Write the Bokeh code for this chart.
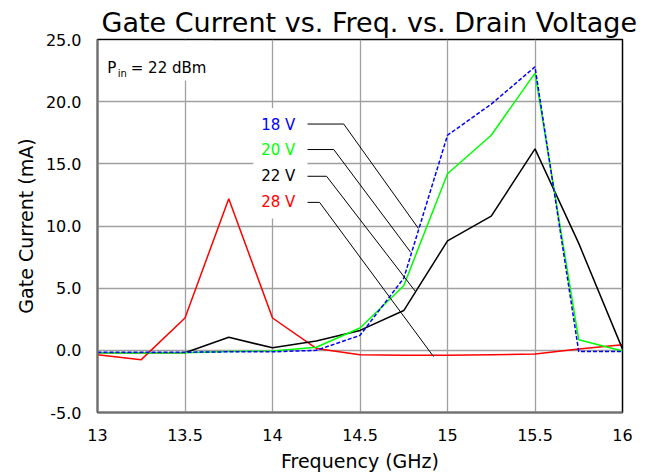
from bokeh.plotting import figure
from bokeh.models import FixedTicker, PrintfTickFormatter, Range1d, Title
from bokeh.core.properties import value
from bokeh.embed import file_html
from bokeh.resources import INLINE

# ---- data ----
freq = [13, 13.25, 13.5, 13.75, 14, 14.25, 14.5, 14.75, 15, 15.25, 15.5, 15.75, 16]
v18 = [-0.15, -0.15, -0.15, -0.12, -0.12, 0.0, 1.2, 5.8, 17.3, 19.8, 22.8, -0.1, -0.1]
v20 = [-0.2, -0.2, -0.2, -0.1, -0.05, 0.25, 1.8, 5.2, 14.2, 17.3, 22.3, 0.85, -0.05]
v22 = [-0.2, -0.2, -0.2, 1.05, 0.2, 0.75, 1.6, 3.2, 8.8, 10.8, 16.2, 8.6, 0.1]
v28 = [-0.35, -0.75, 2.6, 12.2, 2.6, 0.15, -0.35, -0.4, -0.4, -0.35, -0.3, 0.1, 0.45]

x_ticks = [13, 13.5, 14, 14.5, 15, 15.5, 16]
x_tick_labels = ["13", "13.5", "14", "14.5", "15", "15.5", "16"]
y_ticks = [-5, 0, 5, 10, 15, 20, 25]

series_names = ["18 V", "20 V", "22 V", "28 V"]
series_colors = ["#0000ff", "#00ff00", "#000000", "#ff0000"]

# callout label anchors and leader lines (data coordinates)
label_x = 14.13
label_y = [18.15, 16.1, 14.0, 11.9]
leader_x = [[14.2, 14.407, 14.834], [14.2, 14.35, 14.789],
            [14.2, 14.309, 14.817], [14.2, 14.269, 14.92]]
leader_y = [[18.2, 18.2, 9.8], [16.15, 16.15, 7.9],
            [14.0, 14.0, 4.73], [11.9, 11.9, -0.5]]

FONT = "DejaVu Sans"

p = figure(width=649, height=476, output_backend="svg", toolbar_location=None,
           x_range=Range1d(13, 16), y_range=Range1d(-5, 25),
           min_border_left=97, min_border_right=27, min_border_top=39, min_border_bottom=64)

p.title = Title(text="Gate Current vs. Freq. vs. Drain Voltage", align="left", offset=4,
                standoff=3, text_font=FONT, text_font_size="27px", text_font_style="normal",
                text_color="#000000")

p.outline_line_color = "#000000"
p.outline_line_width = 1.5
p.background_fill_color = "white"

for g in (p.xgrid, p.ygrid):
    g.grid_line_color = "#a0a0a0"
    g.grid_line_width = 1.3
p.xgrid.ticker = FixedTicker(ticks=x_ticks)
p.ygrid.ticker = FixedTicker(ticks=y_ticks)

xa = p.xaxis[0]
xa.ticker = FixedTicker(ticks=x_ticks)
xa.major_label_overrides = {t: l for t, l in zip(x_ticks, x_tick_labels)}
xa.axis_label = "Frequency (GHz)"
xa.major_label_standoff = 16
xa.axis_label_standoff = 6

ya = p.yaxis[0]
ya.ticker = FixedTicker(ticks=y_ticks)
ya.formatter = PrintfTickFormatter(format="%.1f")
ya.axis_label = "Gate Current (mA)"
ya.major_label_standoff = 16
ya.axis_label_standoff = 6

for ax in (xa, ya):
    ax.major_tick_line_color = None
    ax.minor_tick_line_color = None
    ax.major_tick_out = 0
    ax.major_tick_in = 0
    ax.axis_line_color = "#707070"
    ax.axis_line_width = 2
    ax.major_label_text_font = FONT
    ax.major_label_text_font_size = "16px"
    ax.major_label_text_color = "#000000"
    ax.axis_label_text_font = FONT
    ax.axis_label_text_font_size = "19px"
    ax.axis_label_text_font_style = "normal"
    ax.axis_label_text_color = "#000000"

# white boxes behind the annotations
p.quad(left=[13.017], right=[13.66], top=[24.9], bottom=[21.7],
       fill_color="white", line_color=None)
p.quad(left=[13.89], right=[14.2], top=[19.5], bottom=[10.6],
       fill_color="white", line_color=None)

# series
p.line(freq, v28, line_color=series_colors[3], line_width=1.5)
p.line(freq, v22, line_color=series_colors[2], line_width=1.5)
p.line(freq, v20, line_color=series_colors[1], line_width=1.5)
p.line(freq, v18, line_color=series_colors[0], line_width=1.5, line_dash="4 2")

# leader lines
p.multi_line(xs=leader_x, ys=leader_y, line_color="#000000", line_width=1)

# callout labels
p.text(x=[label_x] * 4, y=label_y, text=series_names, text_color=series_colors,
       text_align="right", text_baseline="middle",
       text_font=value(FONT), text_font_size="15px")

# P_in annotation
p.text(x=[13.055], y=[22.73], text=["P"], text_align="left", text_baseline="alphabetic",
       text_font=value(FONT), text_font_size="15px", text_color="#000000")
p.text(x=[13.115], y=[22.25], text=["in"], text_align="left", text_baseline="alphabetic",
       text_font=value(FONT), text_font_size="10px", text_color="#000000")
p.text(x=[13.19], y=[22.73], text=["= 22 dBm"], text_align="left", text_baseline="alphabetic",
       text_font=value(FONT), text_font_size="15px", text_color="#000000")

open("out.html", "w").write(file_html(p, INLINE))
